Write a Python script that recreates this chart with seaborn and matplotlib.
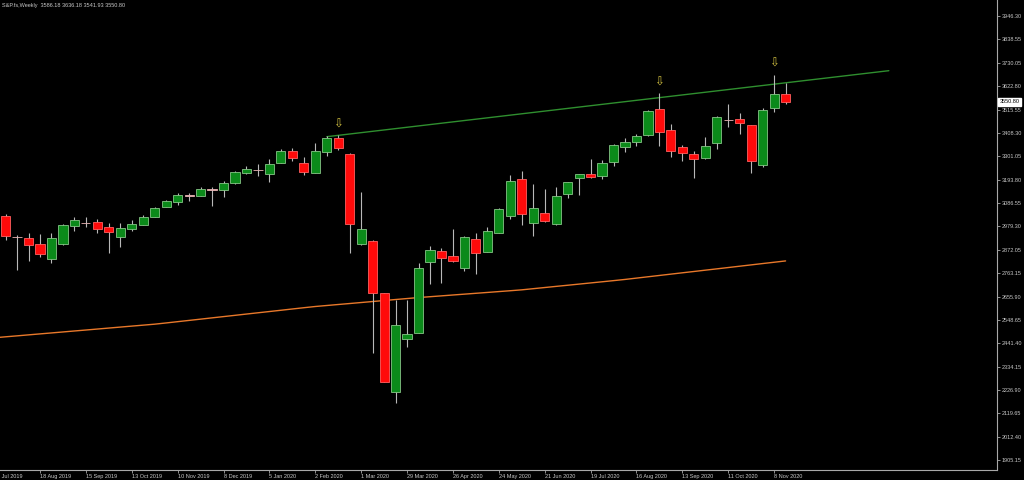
import numpy as np
import pandas as pd
import matplotlib
matplotlib.use("Agg")
import matplotlib.pyplot as plt
import matplotlib.transforms as mtransforms
import seaborn as sns

# Weekly bars, first one is the week starting 28 Jul 2019
weeks = pd.date_range("2019-07-28", periods=69, freq="W-SUN")

opens = [3027, 2932, 2924, 2898, 2828, 2898, 2982, 2996, 3000, 2977,
         2930, 2967, 2987, 3023, 3069, 3092, 3123, 3119, 3148, 3146,
         3177, 3226, 3240, 3220, 3272, 3327, 3269, 3226, 3322, 3384,
         3312, 2898, 2913, 2671, 2219, 2460, 2490, 2814, 2866, 2843,
         2789, 2921, 2863, 2950, 3028, 3195, 2993, 3039, 2988, 3126,
         3200, 3220, 3212, 3276, 3345, 3368, 3399, 3517, 3422, 3345,
         3312, 3292, 3361, 3469, 3471, 3445, 3261, 3524, 3586.18]
highs = [3036, 2939, 2947, 2943, 2947, 2990, 3023, 3023, 3013, 2993,
         2996, 3008, 3030, 3069, 3100, 3131, 3131, 3159, 3158, 3189,
         3235, 3256, 3266, 3287, 3333, 3338, 3299, 3361, 3394, 3399,
         3316, 3138, 2916, 2675, 2641, 2641, 2809, 2889, 2878, 2966,
         2935, 2947, 2975, 3062, 3215, 3234, 3172, 3149, 3161, 3183,
         3222, 3287, 3284, 3358, 3384, 3404, 3514, 3591, 3450, 3353,
         3327, 3388, 3486, 3542, 3499, 3447, 3522, 3675, 3636.18]
lows = [2916, 2778, 2821, 2837, 2812, 2893, 2959, 2977, 2947, 2858,
        2883, 2959, 2984, 3020, 3067, 3077, 3097, 3117, 3073, 3115,
        3176, 3220, 3211, 3184, 3269, 3281, 3215, 3224, 3302, 3330,
        2855, 2893, 2396, 2262, 2168, 2426, 2488, 2714, 2720, 2817,
        2775, 2760, 2860, 2948, 3012, 2985, 2935, 3000, 2986, 3108,
        3123, 3203, 3195, 3257, 3322, 3348, 3394, 3348, 3299, 3281,
        3200, 3290, 3333, 3434, 3404, 3226, 3250, 3506, 3541.93]
closes = [2935, 2930, 2893, 2852, 2924, 2985, 3008, 2993, 2967, 2952,
          2973, 2991, 3023, 3065, 3096, 3123, 3120, 3149, 3150, 3177,
          3230, 3243, 3237, 3266, 3327, 3292, 3230, 3327, 3384, 3338,
          2990, 2966, 2671, 2265, 2526, 2483, 2786, 2870, 2832, 2820,
          2932, 2855, 2959, 3059, 3188, 3036, 3062, 3005, 3119, 3182,
          3220, 3205, 3272, 3351, 3368, 3394, 3509, 3414, 3327, 3318,
          3287, 3348, 3480, 3467, 3456, 3281, 3514, 3586, 3550.80]

# moving average, starts one week earlier (21 Jul 2019) so it reaches the left edge
ma_values = [2466.9, 2471.4, 2475.8, 2480.3, 2484.8, 2489.2, 2493.7, 2498.2, 2502.6, 2507.1,
             2511.6, 2516.1, 2520.6, 2525.0, 2529.5, 2535.1, 2541.0, 2546.8, 2552.6, 2558.5,
             2564.3, 2570.1, 2576.0, 2581.8, 2587.6, 2593.4, 2599.3, 2605.1, 2610.7, 2615.3,
             2619.9, 2624.4, 2629.0, 2633.6, 2638.2, 2642.8, 2647.3, 2651.8, 2655.7, 2659.6,
             2663.6, 2667.5, 2671.4, 2675.3, 2679.3, 2683.2, 2687.3, 2692.6, 2697.9, 2703.2,
             2708.4, 2713.7, 2719.0, 2724.3, 2729.6, 2735.1, 2741.2, 2747.3, 2753.4, 2759.5,
             2765.6, 2771.6, 2777.7, 2783.7, 2789.8, 2795.9, 2802.0, 2808.1, 2814.1, 2820.2]

trend_idx = [28, 77]
trend_price = [3391.2, 3694.6]

fractal_idx = [29, 57, 67]

price_ticks = [3946.30, 3838.55, 3730.05, 3622.80, 3515.55, 3408.30, 3301.05, 3193.80,
               3086.55, 2979.30, 2872.05, 2763.15, 2655.90, 2548.65, 2441.40, 2334.15,
               2226.90, 2119.65, 2012.40, 1905.15]

date_labels = ["21 Jul 2019", "18 Aug 2019", "15 Sep 2019", "13 Oct 2019", "10 Nov 2019",
               "8 Dec 2019", "5 Jan 2020", "2 Feb 2020", "1 Mar 2020", "29 Mar 2020",
               "26 Apr 2020", "24 May 2020", "21 Jun 2020", "19 Jul 2020", "16 Aug 2020",
               "13 Sep 2020", "11 Oct 2020", "8 Nov 2020"]

title = "S&P.fs,Weekly  3586.18 3636.18 3541.93 3550.80"
last_price = 3550.80

GREEN = "#0b8a1a"
GREEN_EDGE = "#86c486"
RED = "#ff0a0a"
RED_EDGE = "#ff6060"
DOJI = "#e8b4b4"
WICK = "#b8b8b8"
ORANGE = "#e8782a"
TREND = "#2f8f2f"
ARROW = "#d2c040"
TEXT = "#c8c8c8"
FRAME = "#a8a8a8"

sns.set_theme(style="dark", rc={"axes.facecolor": "black", "figure.facecolor": "black"})
plt.rcParams["font.family"] = ["Liberation Sans", "DejaVu Sans"]

fig = plt.figure(figsize=(10.24, 4.8), dpi=100)
ax = fig.add_axes([0, 10 / 480, 997 / 1024, 470 / 480])
ax.set_facecolor("black")

idx = np.arange(len(opens))
o = np.array(opens, dtype=float)
h = np.array(highs, dtype=float)
l = np.array(lows, dtype=float)
c = np.array(closes, dtype=float)
up = c >= o
doji = np.abs(c - o) < 5

body_col = np.where(doji, DOJI, np.where(up, GREEN, RED))
edge_col = np.where(doji, DOJI, np.where(up, GREEN_EDGE, RED_EDGE))

# moving average and trend line
sns.lineplot(x=np.arange(-1, len(opens)), y=ma_values, color=ORANGE, lw=1.0, ax=ax, zorder=1)
sns.lineplot(x=trend_idx, y=trend_price, color=TREND, lw=1.0, ax=ax, zorder=1)

# candles
ax.vlines(idx, l, h, color=WICK, lw=0.8, zorder=2)
ax.bar(idx, np.maximum(np.abs(c - o), 1.5), bottom=np.minimum(o, c), width=0.8,
       color=body_col, edgecolor=edge_col, linewidth=0.6, zorder=3)

# fractal arrows
for i in fractal_idx:
    ax.text(i, h[i] + 52, "\u21e9", ha="center", va="center", color=ARROW,
            fontsize=8.5, family=["DejaVu Sans"], zorder=4)

ax.set_xlim(-0.488, 86.43)
ax.set_ylim(1859.2, 4019.5)
ax.grid(False)

for side in ["left", "top"]:
    ax.spines[side].set_visible(False)
for side in ["right", "bottom"]:
    ax.spines[side].set_visible(True)
    ax.spines[side].set_color(FRAME)
    ax.spines[side].set_linewidth(0.8)

# price axis on the right
ax.yaxis.tick_right()
ax.set_yticks(price_ticks)
ax.set_yticklabels([f"{v:.2f}" for v in price_ticks])
ax.tick_params(axis="y", right=True, left=False, length=2, width=0.6, color=FRAME,
               labelcolor=TEXT, labelsize=4, pad=1.5, direction="out")

# date axis
date_pos = [(pd.Timestamp(d) - weeks[0]).days // 7 for d in date_labels]
ax.set_xticks([p for p in date_pos if p >= 0])
ax.set_xticklabels([])
ax.tick_params(axis="x", bottom=True, length=2, width=0.6, color=FRAME, direction="out")
xtrans = mtransforms.blended_transform_factory(ax.transData, ax.transAxes)
for p, lab in zip(date_pos, date_labels):
    ax.text(p, -0.0128, lab, transform=xtrans, ha="left", va="center",
            fontsize=4, color=TEXT, clip_on=False)

# current price box
ytrans = mtransforms.blended_transform_factory(ax.transAxes, ax.transData)
ax.text(1.0025, last_price, f"{last_price:.2f}", transform=ytrans, ha="left", va="center",
        fontsize=4, color="black", clip_on=False,
        bbox=dict(facecolor="white", edgecolor="white", pad=0.8))

fig.text(2 / 1024, 1 - 5 / 480, title, ha="left", va="center", fontsize=4, color=TEXT)

fig.savefig("out.png", dpi=100, facecolor="black")
